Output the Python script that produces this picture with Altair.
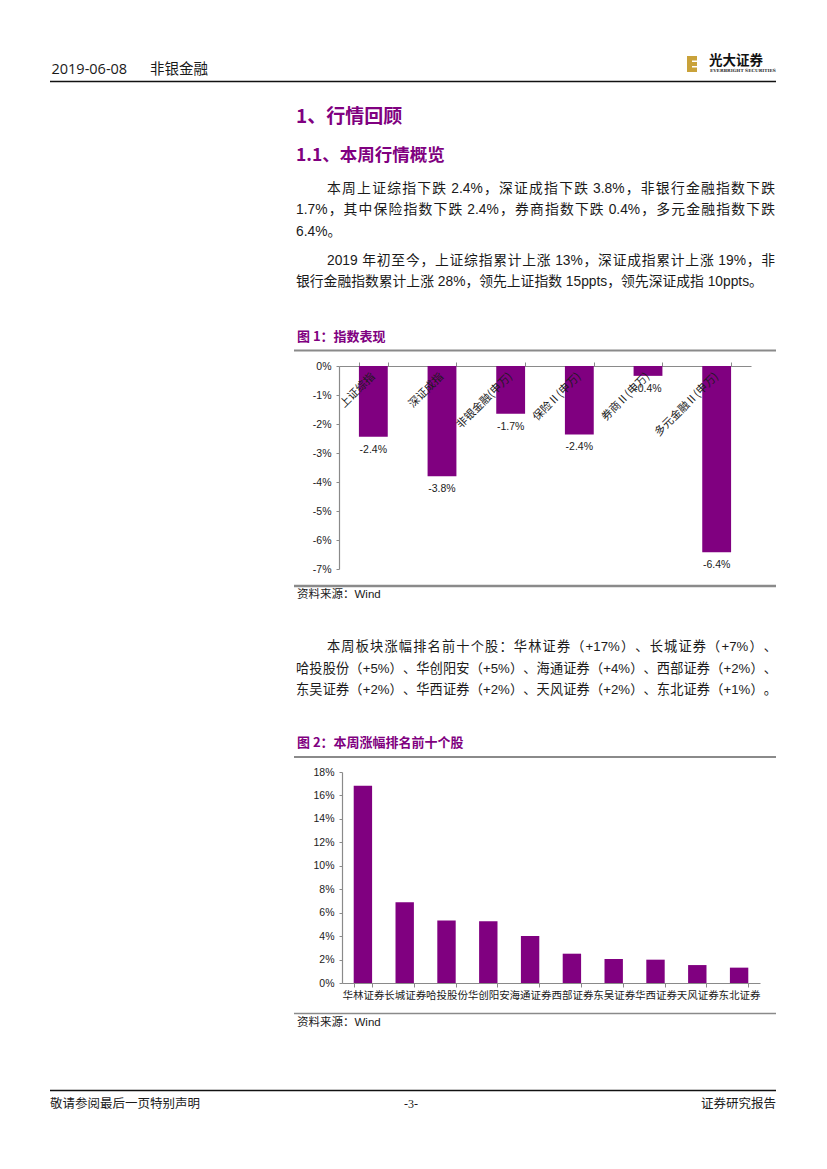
import altair as alt
import pandas as pd

# ------------------------------------------------------------------ data
HEADER_DATE = "2019-06-08"
HEADER_SECTOR = "非银金融"
LOGO_CN = "光大证券"
LOGO_EN = "EVERBRIGHT SECURITIES"
H1 = "1、行情回顾"
H2 = "1.1、本周行情概览"
PARA1 = [
    "本周上证综指下跌 2.4%，深证成指下跌 3.8%，非银行金融指数下跌",
    "1.7%，其中保险指数下跌 2.4%，券商指数下跌 0.4%，多元金融指数下跌",
]
PARA1_LAST = "6.4%。"
PARA2 = ["2019 年初至今，上证综指累计上涨 13%，深证成指累计上涨 19%，非"]
PARA2_LAST = "银行金融指数累计上涨 28%，领先上证指数 15ppts，领先深证成指 10ppts。"
FIG1_TITLE = "图 1：指数表现"
FIG1_CATS = ["上证综指", "深证成指", "非银金融(申万)", "保险Ⅱ(申万)", "券商Ⅱ(申万)", "多元金融Ⅱ(申万)"]
FIG1_VALUES = [-2.44, -3.80, -1.65, -2.36, -0.34, -6.42]
FIG1_LABELS = ["-2.4%", "-3.8%", "-1.7%", "-2.4%", "-0.4%", "-6.4%"]
FIG1_TICKS = [-7, -6, -5, -4, -3, -2, -1, 0]
SOURCE = "资料来源：Wind"
PARA3 = [
    "本周板块涨幅排名前十个股：华林证券（+17%）、长城证券（+7%）、",
    "哈投股份（+5%）、华创阳安（+5%）、海通证券（+4%）、西部证券（+2%）、",
    "东吴证券（+2%）、华西证券（+2%）、天风证券（+2%）、东北证券（+1%）。",
]
FIG2_TITLE = "图 2：本周涨幅排名前十个股"
FIG2_CATS = ["华林证券", "长城证券", "哈投股份", "华创阳安", "海通证券",
             "西部证券", "东吴证券", "华西证券", "天风证券", "东北证券"]
FIG2_VALUES = [16.83, 6.88, 5.34, 5.26, 4.01, 2.50, 2.05, 1.99, 1.53, 1.31]
FIG2_TICKS = [0, 2, 4, 6, 8, 10, 12, 14, 16, 18]
FOOTER_LEFT = "敬请参阅最后一页特别声明"
FOOTER_MID = "-3-"
FOOTER_RIGHT = "证券研究报告"

# ------------------------------------------------------------------ styles
CJK = "Noto Sans CJK SC"
BODY = "Liberation Sans, Noto Sans CJK SC"
LATIN = "Liberation Sans"
PURPLE = "#800080"
AX = "#8a8a8a"
INK = "#1a1a1a"
GOLD = "#c9a23a"
PAGE_W = 811

# approximate advance widths (em) for Latin glyphs in Liberation Sans
_W = {".": .278, " ": .278, "%": .889, "+": .584, "p": .556, "t": .278, "s": .5,
      "-": .333, "(": .333, ")": .333}


def is_wide(ch):
    return ord(ch) > 0x2E80


def text_width(s, size):
    return sum(1.0 if is_wide(ch) else _W.get(ch, .556) for ch in s) * size


def tokenize(s):
    """Split a line into (text, leading-spaces) tokens: wide chars alone, Latin runs kept."""
    toks, buf, buf_lead, pending = [], "", 0, 0
    for ch in s:
        if ch == " ":
            if buf:
                toks.append((buf, buf_lead))
                buf = ""
            pending += 1
        elif is_wide(ch):
            if buf:
                toks.append((buf, buf_lead))
                buf = ""
            toks.append((ch, pending))
            pending = 0
        else:
            if not buf:
                buf_lead, pending = pending, 0
            buf += ch
    if buf:
        toks.append((buf, buf_lead))
    return toks


def one():
    return pd.DataFrame({"a": [0]})


def txt(s, x, y, org, size=14, font=BODY, color=INK, weight="normal",
        align="left", baseline="middle"):
    ox, oy = org
    return alt.Chart(pd.DataFrame({"t": [s]})).mark_text(
        align=align, baseline=baseline, font=font, fontSize=size,
        fontWeight=weight, color=color
    ).encode(x=alt.value(x - ox), y=alt.value(y - oy), text="t:N")


def justified(line, x0, x1, y, org, size):
    """Justified text line: the free space is spread evenly between the glyph tokens."""
    ox, oy = org
    toks = tokenize(line)
    sp = _W[" "] * size
    widths = [text_width(t, size) + lead * sp for t, lead in toks]
    gap = ((x1 - x0) - sum(widths)) / max(len(toks) - 1, 1)
    xs, x = [], x0
    for (t, lead), w in zip(toks, widths):
        xs.append(x + lead * sp - ox)
        x += w + gap
    df = pd.DataFrame({"t": [t for t, _ in toks], "px": xs})
    return alt.Chart(df).mark_text(align="left", baseline="middle", font=BODY,
                                   fontSize=size, color=INK).encode(
        x=alt.X("px:Q", scale=None, axis=None), y=alt.value(y - oy), text="t:N")


def hrule(x1, x2, y, org, color=AX, width=2.0):
    ox, oy = org
    return alt.Chart(one()).mark_rule(color=color, strokeWidth=width).encode(
        x=alt.value(x1 - ox), x2=alt.value(x2 - ox), y=alt.value(y - oy))


def box(x1, x2, y1, y2, org, color):
    ox, oy = org
    return alt.Chart(one()).mark_rect(color=color).encode(
        x=alt.value(x1 - ox), x2=alt.value(x2 - ox),
        y=alt.value(y1 - oy), y2=alt.value(y2 - oy))


# ------------------------------------------------------------------ block A (page y 8..366)
A = (8, 8)
layersA = [
    txt(HEADER_DATE, 51.5, 70, A, size=14.5, font="Open Sans"),
    txt(HEADER_SECTOR, 150, 70, A, size=14.5, font=CJK),
    hrule(50, 776, 81.5, A, color="#111111", width=1.5),
    box(687, 697, 56, 72, A, GOLD),
    box(692, 697, 60.5, 62, A, "#ffffff"),
    box(692, 697, 66, 67.5, A, "#ffffff"),
    txt(LOGO_CN, 709, 60.5, A, size=13.5, font=CJK, weight="bold", color="#111111"),
    txt(LOGO_EN, 710, 70.8, A, size=4.3, font="DejaVu Serif", weight="bold", color="#333333"),
    txt(H1, 296, 116.5, A, size=19, font=CJK, weight="bold", color=PURPLE),
    txt(H2, 296, 156, A, size=17.5, font=CJK, weight="bold", color=PURPLE),
    justified(PARA1[0], 327, 775, 188.5, A, 13.8),
    justified(PARA1[1], 296, 775, 210, A, 13.8),
    txt(PARA1_LAST, 296, 232, A, size=13.8),
    justified(PARA2[0], 327, 775, 260.5, A, 13.8),
    txt(PARA2_LAST, 296, 282, A, size=13.8),
    txt(FIG1_TITLE, 297, 337, A, size=13, font=CJK, weight="bold", color=PURPLE),
    hrule(294, 776, 350.5, A, width=2.2),
]
blockA = alt.layer(*layersA).properties(width=PAGE_W, height=358)

# ------------------------------------------------------------------ row B: chart 1 (plot page x 339..751, y 366..569)
B_X0, B_X1 = 331, 743          # plot-relative pixel range of the category axis
df1 = pd.DataFrame({"cat": FIG1_CATS, "val": FIG1_VALUES, "lab": FIG1_LABELS})
x1 = alt.X("cat:N", sort=FIG1_CATS,
           scale=alt.Scale(range=[B_X0, B_X1], paddingInner=0.58, paddingOuter=0.29),
           axis=alt.Axis(orient="top", title=None, labels=False, tickBand="extent",
                         tickSize=4, domainColor=AX, tickColor=AX, domainWidth=1.2))
y1 = alt.Y("val:Q", scale=alt.Scale(domain=[-7, 0], nice=False, zero=False),
           axis=alt.Axis(title=None, values=FIG1_TICKS, labelExpr="datum.value + '%'",
                         labelOverlap=False, labelBound=False, labelFlush=False,
                         grid=False, tickSize=3, labelPadding=5, tickCount=8,
                         labelFont=LATIN, labelFontSize=10.5, labelColor=INK,
                         domainColor=AX, tickColor=AX, domainWidth=1.2, offset=-B_X0))
bars1 = alt.Chart(df1).mark_bar(color=PURPLE).encode(x=x1, y=y1, y2=alt.datum(0))
vlab1 = alt.Chart(df1).mark_text(baseline="middle", dy=13, font=LATIN, fontSize=10.5,
                                 color=INK).encode(x=x1, y=y1, text="lab:N")
clab1 = alt.Chart(df1).mark_text(align="right", baseline="middle", angle=315, font=CJK,
                                 fontSize=11, color=INK).encode(
    x=x1, y=alt.value(9), text="cat:N")
rowB = alt.layer(bars1, vlab1, clab1).properties(width=PAGE_W, height=203)

# ------------------------------------------------------------------ block C (page y 569..772)
C = (8, 569)
layersC = [
    hrule(294, 776, 586, C, width=2.6),
    txt(SOURCE, 297, 595, C, size=11.5),
    justified(PARA3[0], 327, 777, 647, C, 13.2),
    justified(PARA3[1], 296, 777, 668.5, C, 13.2),
    justified(PARA3[2], 296, 777, 690, C, 13.2),
    txt(FIG2_TITLE, 297, 743, C, size=13, font=CJK, weight="bold", color=PURPLE),
    hrule(294, 776, 757, C, width=2.2),
]
blockC = alt.layer(*layersC).properties(width=PAGE_W, height=203)

# ------------------------------------------------------------------ row D: chart 2 (plot page x 342..760, y 772..983)
D_X0, D_X1 = 334, 752
df2 = pd.DataFrame({"cat": FIG2_CATS, "val": FIG2_VALUES})
x2 = alt.X("cat:N", sort=FIG2_CATS,
           scale=alt.Scale(range=[D_X0, D_X1], paddingInner=0.56, paddingOuter=0.28),
           axis=alt.Axis(title=None, labelAngle=0, labelFont=CJK, labelFontSize=10.5,
                         labelPadding=3, labelOverlap=False, labelColor=INK,
                         tickBand="extent", tickSize=4, domainColor=AX, tickColor=AX,
                         domainWidth=1.2))
y2 = alt.Y("val:Q", scale=alt.Scale(domain=[0, 18], nice=False),
           axis=alt.Axis(title=None, values=FIG2_TICKS, labelExpr="datum.value + '%'",
                         labelOverlap=False, grid=False, tickSize=3, labelPadding=5,
                         labelFont=LATIN, labelFontSize=10.5, labelColor=INK,
                         domainColor=AX, tickColor=AX, domainWidth=1.2, offset=-D_X0))
rowD = alt.Chart(df2).mark_bar(color=PURPLE).encode(x=x2, y=y2).properties(
    width=PAGE_W, height=211)

# ------------------------------------------------------------------ block E (page y 983..1161)
E = (8, 983)
layersE = [
    hrule(294, 776, 1013.5, E, width=1.6),
    txt(SOURCE, 297, 1023, E, size=11.5),
    hrule(50, 776, 1090.5, E, color="#111111", width=1.5),
    txt(FOOTER_LEFT, 50, 1104, E, size=12.5, font=CJK),
    txt(FOOTER_MID, 411, 1104, E, size=12, font="Liberation Serif", align="center"),
    txt(FOOTER_RIGHT, 776, 1104, E, size=12.5, font=CJK, align="right"),
]
blockE = alt.layer(*layersE).properties(width=PAGE_W, height=178)

chart = alt.vconcat(blockA, rowB, blockC, rowD, blockE, spacing=0, bounds="flush").properties(
    padding=0
).configure_view(stroke=None)

chart.save("out.html", embed_options={"renderer": "svg", "actions": False})
